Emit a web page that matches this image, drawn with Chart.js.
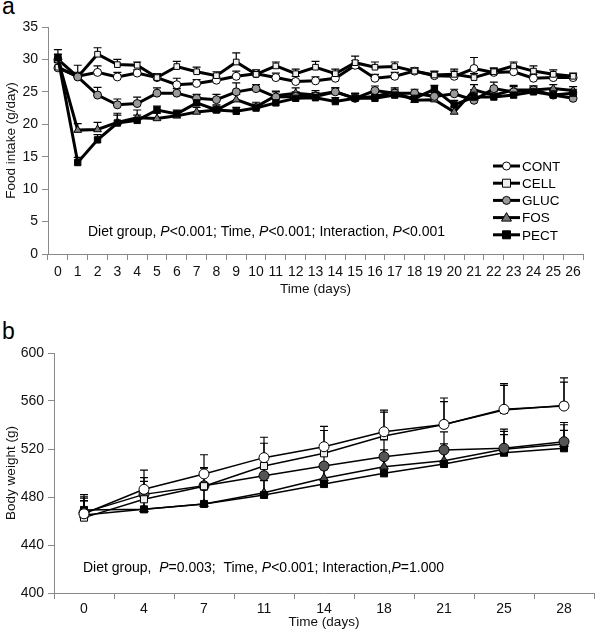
<!DOCTYPE html>
<html>
<head>
<meta charset="utf-8">
<script src="https://cdn.jsdelivr.net/npm/chart.js@4.4.1/dist/chart.umd.min.js"></script>
<style>
  html, body { margin: 0; padding: 0; background: #fff; }
  #page { position: relative; width: 600px; height: 636px; font-family: 'Liberation Sans', Arial, sans-serif; }
  .panel { position: absolute; left: 0; }
  .tag { position: absolute; left: 2px; font-size: 23px; color: #000; line-height: 1; }
</style>
</head>
<body>
<div id="page">
  <div class="tag" style="top:-5px">a</div>
  <div class="tag" style="top:320px">b</div>
  <canvas id="chartA" class="panel" style="top:0" width="600" height="300"></canvas>
  <canvas id="chartB" class="panel" style="top:320px" width="600" height="316"></canvas>
</div>
<script>
// ---- Panel a : apport alimentaire (g/jour), jours 0 à 26 ----
const daysA = ['0','1','2','3','4','5','6','7','8','9','10','11','12','13','14','15','16','17','18','19','20','21','22','23','24','25','26'];
const intakeCont = [28.7, 27.4, 28.0, 27.3, 27.9, 27.2, 26.1, 26.3, 26.8, 27.4, 27.8, 27.2, 26.6, 26.7, 27.1, 29.1, 27.1, 27.4, 28.2, 27.5, 27.4, 28.6, 28.0, 28.1, 27.1, 27.2, 27.2];
const intakeCell = [28.8, 27.3, 30.8, 29.2, 29.1, 27.2, 28.9, 28.1, 27.5, 29.6, 27.7, 29.0, 27.8, 28.8, 27.8, 29.5, 28.8, 28.9, 28.2, 27.6, 27.7, 27.2, 28.1, 29.0, 28.2, 27.7, 27.4];
const intakeGluc = [30.0, 27.3, 24.5, 23.0, 23.2, 24.8, 24.8, 24.0, 23.8, 25.0, 25.5, 24.2, 24.3, 24.3, 25.0, 24.0, 25.2, 24.8, 24.8, 24.3, 24.7, 23.7, 25.5, 25.0, 25.3, 24.5, 24.0];
const intakeFos  = [30.0, 19.1, 19.2, 20.3, 21.0, 20.9, 21.3, 21.9, 22.2, 23.8, 22.7, 24.4, 24.8, 24.5, 25.0, 24.0, 24.3, 25.0, 23.7, 23.8, 21.9, 25.3, 24.5, 25.3, 25.3, 25.5, 25.2];
const intakePect = [30.3, 14.1, 17.6, 20.2, 20.6, 22.2, 21.6, 23.3, 22.2, 22.0, 22.5, 23.3, 24.0, 24.1, 23.5, 24.0, 24.0, 24.5, 24.0, 25.4, 23.0, 24.2, 24.2, 24.5, 25.0, 24.5, 24.8];
// erreurs standard (barre vers le haut seulement)
const errCont = [0.8, 0.6, 1.0, 0.7, 0.5, 0.6, 1.0, 0.6, 0.5, 0.8, 0.6, 0.7, 0.8, 0.6, 0.6, 0.7, 0.6, 0.6, 0.5, 0.6, 0.8, 1.7, 0.6, 0.6, 0.6, 0.5, 0.5];
const errCell = [0.8, 0.5, 1.0, 0.8, 0.5, 0.5, 0.8, 0.7, 0.6, 1.4, 0.5, 0.6, 0.7, 0.9, 0.7, 1.0, 0.8, 0.7, 0.5, 0.6, 0.8, 0.6, 0.6, 0.6, 0.8, 0.7, 0.5];
const errGluc = [0.8, 1.8, 1.2, 0.9, 1.0, 0.8, 0.7, 0.6, 0.8, 1.4, 0.6, 0.8, 0.7, 0.6, 0.6, 0.7, 0.7, 0.6, 0.6, 0.7, 0.7, 1.6, 1.0, 0.8, 0.6, 0.6, 0.6];
const errFos  = [0.8, 1.0, 1.1, 1.4, 1.2, 0.8, 0.7, 0.7, 0.8, 0.8, 0.7, 0.7, 0.8, 0.7, 0.6, 0.8, 0.6, 0.6, 0.6, 0.8, 0.8, 0.8, 0.6, 0.7, 0.6, 0.6, 0.6];
const errPect = [1.2, 0.8, 0.8, 1.2, 0.8, 0.6, 0.6, 0.7, 0.6, 0.6, 0.6, 0.6, 0.6, 0.6, 0.6, 0.7, 0.6, 0.6, 0.6, 0.6, 0.7, 0.6, 0.6, 0.6, 0.6, 0.6, 0.6];
const ticksA = [0, 5, 10, 15, 20, 25, 30, 35];

// ---- Panel b : poids corporel (g) ----
const daysB = ['0', '4', '7', '11', '14', '18', '21', '25', '28'];
const weightCont = [466, 486.4, 499.2, 512.8, 521.9, 534.4, 540.5, 553.1, 555.8];
const weightCell = [462.8, 478.1, 489.0, 505.8, 516.4, 530.8, 540.5, 552.5, 556.2];
const weightGluc = [467, 482.2, 489.4, 497.8, 505.8, 513.6, 519.2, 520.6, 526.1];
const weightFos  = [465, 469.7, 474.2, 483.6, 495.6, 505.3, 510.3, 519.7, 524.2];
const weightPect = [469.2, 469.7, 474.2, 481.7, 490.8, 499.7, 507.5, 516.9, 520.6];
const wErrCont = [16, 16, 16, 17, 17, 18, 22, 20, 20];
const wErrCell = [14, 15, 15, 19, 19, 20, 19, 22, 23];
const wErrGluc = [12, 14, 15, 14, 14, 14, 15, 16, 16];
const wErrFos  = [12, 13, 12, 12, 13, 14, 14, 15, 16];
const wErrPect = [11, 11, 12, 12, 12, 13, 14, 15, 15];
const ticksB = [400, 440, 480, 520, 560, 600];

const FONT = "'Liberation Sans', Arial, sans-serif";
const AXIS_GRAY = '#8a8a8a';

// Barres d'erreur (vers le haut) dessinées via l'échelle y
const errorBars = {
  id: 'errorBars',
  beforeDatasetsDraw(chart, args, opts) {
    const ctx = chart.ctx;
    const y = chart.scales.y;
    chart.data.datasets.forEach((ds, i) => {
      if (!ds.errors) return;
      const meta = chart.getDatasetMeta(i);
      meta.data.forEach((pt, j) => {
        const top = y.getPixelForValue(ds.data[j] + ds.errors[j]);
        ctx.save();
        ctx.strokeStyle = '#000';
        ctx.lineWidth = opts.width || 1;
        ctx.beginPath();
        ctx.moveTo(pt.x, pt.y);
        ctx.lineTo(pt.x, top);
        ctx.moveTo(pt.x - opts.cap, top);
        ctx.lineTo(pt.x + opts.cap, top);
        ctx.stroke();
        ctx.restore();
      });
    });
  }
};

// Texte statistique avec P en italique
const statsText = {
  id: 'statsText',
  afterDraw(chart, args, opts) {
    const ctx = chart.ctx;
    let x = chart.chartArea.left + opts.dx;
    const yPos = chart.chartArea.bottom - opts.dy;
    ctx.save();
    ctx.fillStyle = '#000';
    ctx.textBaseline = 'alphabetic';
    opts.parts.forEach(p => {
      ctx.font = (p.italic ? 'italic ' : '') + '14px ' + FONT;
      ctx.fillText(p.t, x, yPos);
      x += ctx.measureText(p.t).width;
    });
    ctx.restore();
  }
};

// Légende verticale à l'intérieur du graphique (panel a)
const insideLegend = {
  id: 'insideLegend',
  afterDraw(chart, args, opts) {
    if (!opts.show) return;
    const ctx = chart.ctx;
    const x0 = chart.chartArea.right - opts.dx;
    let yy = chart.chartArea.top + opts.dy;
    chart.data.datasets.forEach(ds => {
      ctx.save();
      ctx.strokeStyle = '#000';
      ctx.lineWidth = 3;
      ctx.beginPath();
      ctx.moveTo(x0, yy);
      ctx.lineTo(x0 + 27, yy);
      ctx.stroke();
      ctx.fillStyle = ds.pointBackgroundColor;
      ctx.lineWidth = 1;
      ctx.beginPath();
      if (ds.pointStyle === 'circle') {
        ctx.arc(x0 + 13.5, yy, 4, 0, Math.PI * 2);
      } else if (ds.pointStyle === 'rect') {
        ctx.rect(x0 + 9.5, yy - 4, 8, 8);
      } else {
        ctx.moveTo(x0 + 13.5, yy - 5);
        ctx.lineTo(x0 + 18.5, yy + 3.5);
        ctx.lineTo(x0 + 8.5, yy + 3.5);
        ctx.closePath();
      }
      ctx.fill();
      ctx.stroke();
      ctx.fillStyle = '#000';
      ctx.font = '13.5px ' + FONT;
      ctx.textBaseline = 'middle';
      ctx.fillText(ds.label, x0 + 29, yy + 1);
      ctx.restore();
      yy += opts.step;
    });
  }
};

function serie(label, data, errors, style, fill, width, radius, order) {
  return {
    label: label,
    data: data,
    errors: errors,
    borderColor: '#000',
    borderWidth: width,
    pointStyle: style,
    pointRadius: radius,
    pointBackgroundColor: fill,
    pointBorderColor: '#000',
    pointBorderWidth: 1,
    tension: 0,
    order: order
  };
}

function axes(labels, yMin, yMax, yTitle, yWidth, xHeight, tickList, xPad) {
  return {
    x: {
      type: 'category',
      offset: true,
      grid: { display: true, drawOnChartArea: false, offset: true, color: AXIS_GRAY, tickLength: 6 },
      border: { display: true, color: AXIS_GRAY, width: 1 },
      ticks: { color: '#111', autoSkip: false, maxRotation: 0, padding: xPad, font: { family: FONT, size: 14 } },
      title: { display: true, text: 'Time (days)', color: '#111', padding: { top: 2, bottom: 0 }, font: { family: FONT, size: 13.5 } },
      afterFit: s => { s.height = xHeight; }
    },
    y: {
      min: yMin,
      max: yMax,
      afterBuildTicks: s => { s.ticks = tickList.map(v => ({ value: v })); },
      grid: { display: true, drawOnChartArea: false, color: AXIS_GRAY, tickLength: 6 },
      border: { display: true, color: AXIS_GRAY, width: 1 },
      ticks: { color: '#111', padding: 4, font: { family: FONT, size: 14 } },
      title: { display: true, text: yTitle, color: '#111', padding: 0, font: { family: FONT, size: 13.5 } },
      afterFit: s => { s.width = yWidth; }
    }
  };
}

// Graphique a
new Chart(document.getElementById('chartA'), {
  type: 'line',
  data: {
    labels: daysA,
    datasets: [
      serie('CONT', intakeCont, errCont, 'circle', '#ffffff', 3, 4, 4),
      serie('CELL', intakeCell, errCell, 'rect', '#eeeeee', 3, 4, 3),
      serie('GLUC', intakeGluc, errGluc, 'circle', '#999999', 3, 4, 1),
      serie('FOS', intakeFos, errFos, 'triangle', '#777777', 3, 4.5, 2),
      serie('PECT', intakePect, errPect, 'rect', '#000000', 3, 4.5, 0)
    ]
  },
  options: {
    responsive: false,
    animation: false,
    layout: { padding: { left: 3, top: 27, right: 17, bottom: 3 } },
    scales: axes(daysA, 0, 35, 'Food intake (g/day)', 45, 43, ticksA, 4),
    plugins: {
      legend: { display: false },
      tooltip: { enabled: false },
      errorBars: { cap: 4, width: 1.2 },
      insideLegend: { show: true, dx: 90, dy: 139, step: 17.2 },
      statsText: {
        dx: 40, dy: 18,
        parts: [
          { t: 'Diet group, ' }, { t: 'P', italic: true }, { t: '<0.001; Time, ' },
          { t: 'P', italic: true }, { t: '<0.001; Interaction, ' }, { t: 'P', italic: true }, { t: '<0.001' }
        ]
      }
    }
  },
  plugins: [errorBars, insideLegend, statsText]
});

// Graphique b
new Chart(document.getElementById('chartB'), {
  type: 'line',
  data: {
    labels: daysB,
    datasets: [
      serie('CONT', weightCont, wErrCont, 'circle', '#ffffff', 1.5, 5, 0),
      serie('CELL', weightCell, wErrCell, 'rect', '#eeeeee', 1.5, 5, 1),
      serie('GLUC', weightGluc, wErrGluc, 'circle', '#555555', 1.5, 5, 2),
      serie('FOS', weightFos, wErrFos, 'triangle', '#444444', 1.5, 5, 4),
      serie('PECT', weightPect, wErrPect, 'rect', '#000000', 1.5, 5, 3)
    ]
  },
  options: {
    responsive: false,
    animation: false,
    layout: { padding: { left: 3, top: 33, right: 3, bottom: 6 } },
    scales: axes(daysB, 400, 600, 'Body weight (g)', 51, 37, ticksB, 2),
    plugins: {
      legend: { display: false },
      tooltip: { enabled: false },
      errorBars: { cap: 4, width: 1.2 },
      insideLegend: { show: false },
      statsText: {
        dx: 29, dy: 21,
        parts: [
          { t: 'Diet group,  ' }, { t: 'P', italic: true }, { t: '=0.003;  Time, ' },
          { t: 'P', italic: true }, { t: '<0.001; Interaction,' }, { t: 'P', italic: true }, { t: '=1.000' }
        ]
      }
    }
  },
  plugins: [errorBars, insideLegend, statsText]
});
</script>
</body>
</html>
